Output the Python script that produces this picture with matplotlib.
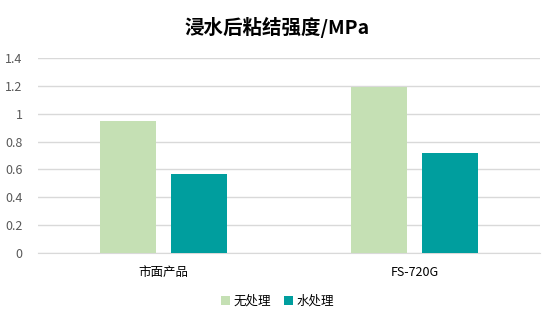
import matplotlib
matplotlib.use("Agg")
import matplotlib.pyplot as plt
import numpy as np

plt.rcParams['font.family'] = ['Noto Sans CJK SC', 'DejaVu Sans']

categories = ['市面产品', 'FS-720G']
series_names = ['无处理', '水处理']
untreated = [0.945, 1.19]
water = [0.57, 0.715]
yticks = [0, 0.2, 0.4, 0.6, 0.8, 1.0, 1.2, 1.4]
ytick_labels = ['0', '0.2', '0.4', '0.6', '0.8', '1', '1.2', '1.4']
title = '浸水后粘结强度/MPa'

colors = ['#C5E0B4', '#009E9E']

fig = plt.figure(figsize=(5.55, 3.24), dpi=100)
ax = fig.add_axes([0.068, 0.219, 0.905, 0.602])

x = np.arange(len(categories))
w = 0.223
gap = 0.06
off = (w + gap) / 2
ax.bar(x - off, untreated, width=w, color=colors[0], label=series_names[0], zorder=3)
ax.bar(x + off, water, width=w, color=colors[1], label=series_names[1], zorder=3)

ax.set_xlim(-0.5, len(categories) - 0.5)
ax.set_ylim(0, 1.4)
ax.set_yticks(yticks)
ax.set_yticklabels(ytick_labels)
ax.set_xticks(x)
ax.set_xticklabels(categories)
ax.grid(axis='y', color='#D9D9D9', linewidth=1, zorder=0)
for s in ['top', 'right', 'left']:
    ax.spines[s].set_visible(False)
ax.spines['bottom'].set_color('#D9D9D9')
ax.tick_params(axis='both', length=0, colors='#595959', labelsize=9)
ax.tick_params(axis='x', colors='#000000', pad=9)
ax.tick_params(axis='y', pad=11)

fig.text(0.5, 0.915, title, ha='center', va='center', fontsize=14, fontweight='bold', color='#000000')

fig.legend(loc='center', bbox_to_anchor=(0.5, 0.07), ncol=2, frameon=False,
           fontsize=9, handlelength=0.7, handleheight=0.7, handletextpad=0.3,
           columnspacing=1.0)

fig.savefig('out.png', dpi=100)
